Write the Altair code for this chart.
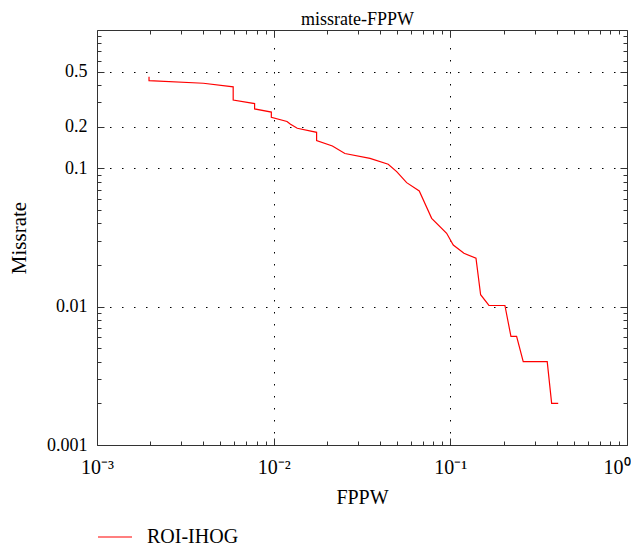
import altair as alt
import pandas as pd

# ---- data ----
FPPW = [0.00197, 0.00197, 0.0040, 0.0059, 0.0059, 0.0078, 0.0078, 0.0097, 0.0097,
        0.0119, 0.0124, 0.0136, 0.0175, 0.0175, 0.0215, 0.0253, 0.0351, 0.0445,
        0.0497, 0.0566, 0.0667, 0.0784, 0.0953, 0.1039, 0.1194, 0.1397, 0.1484,
        0.1654, 0.2037, 0.2203, 0.2372, 0.2586, 0.3535, 0.3745, 0.408]
MISSRATE = [0.460, 0.430, 0.412, 0.388, 0.312, 0.294, 0.269, 0.255, 0.234,
            0.218, 0.209, 0.195, 0.182, 0.159, 0.145, 0.128, 0.118, 0.107,
            0.0946, 0.0788, 0.0687, 0.0435, 0.0339, 0.0279, 0.0243, 0.0224, 0.0122,
            0.0102, 0.0102, 0.0061, 0.0061, 0.0040, 0.0040, 0.0020, 0.0020]
SERIES = "ROI-IHOG"
TITLE = "missrate-FPPW"

X_MAJOR = [0.001, 0.01, 0.1, 1]
X_MAJOR_LABELS = ["10⁻³", "10⁻²", "10⁻¹", "10⁰"]
X_MINOR = [0.002, 0.003, 0.004, 0.005, 0.006, 0.007, 0.008, 0.009,
           0.02, 0.03, 0.04, 0.05, 0.06, 0.07, 0.08, 0.09,
           0.2, 0.3, 0.4, 0.5, 0.6, 0.7, 0.8, 0.9]
X_GRID = [0.01, 0.1]

Y_MAJOR = [0.001, 0.01, 0.1, 0.2, 0.5]
Y_MAJOR_LABELS = ["0.001", "0.01", "0.1", "0.2", "0.5"]
Y_MINOR = [0.002, 0.003, 0.004, 0.005, 0.006, 0.007, 0.008, 0.009,
           0.02, 0.03, 0.04, 0.05, 0.06, 0.07, 0.08, 0.09,
           0.3, 0.4, 0.6, 0.7, 0.8, 0.9]
Y_GRID = [0.01, 0.1, 0.2, 0.5]

df = pd.DataFrame({"fppw": FPPW, "missrate": MISSRATE,
                   "series": [SERIES] * len(FPPW), "idx": list(range(len(FPPW)))})

W, H = 530, 415
FONT = "Liberation Serif"
TICK = "#333333"


def label_expr(vals, labels):
    expr = "''"
    for v, l in reversed(list(zip(vals, labels))):
        expr = f"datum.value == {v} ? '{l}' : ({expr})"
    return expr


def major_test(vals):
    return "indexof([" + ",".join(str(v) for v in vals) + "], datum.value) >= 0"


xs = alt.Scale(type="log", domain=[0.001, 1], nice=False)
ys = alt.Scale(type="log", domain=[0.001, 1], nice=False)

x_axis_main = alt.Axis(
    orient="bottom", values=X_MAJOR + X_MINOR, labelExpr=label_expr(X_MAJOR, X_MAJOR_LABELS),
    ticks=False, tickSize=0, domain=False, grid=True, gridColor=TICK, gridWidth=1, gridOpacity=1,
    gridDash={"condition": {"test": major_test(X_MAJOR), "value": [7, H - 14, 7]},
              "value": [4, H - 8, 4]},
    labelFont=FONT, labelFontSize=20, labelColor="black", labelPadding=28,
    labelBaseline="alphabetic", labelFlush=False, labelOverlap=False,
    labelAlign={"condition": {"test": "datum.value == 1", "value": "right"}, "value": "center"},
    labelOffset={"condition": {"test": "datum.value == 1", "value": 3}, "value": 0},
    title="FPPW", titleFont=FONT, titleFontSize=20, titleFontWeight="normal",
    titleColor="black", titleY=58, titleBaseline="alphabetic")

y_axis_main = alt.Axis(
    orient="left", values=Y_MAJOR + Y_MINOR, labelExpr=label_expr(Y_MAJOR, Y_MAJOR_LABELS),
    ticks=False, tickSize=0, domain=False, grid=True, gridColor=TICK, gridWidth=1, gridOpacity=1,
    gridDash={"condition": {"test": major_test(Y_MAJOR), "value": [7, W - 14, 7]},
              "value": [4, W - 8, 4]},
    labelFont=FONT, labelFontSize=18, labelColor="black", labelPadding=10,
    labelOverlap=False, labelFlush=False,
    title="Missrate", titleFont=FONT, titleFontSize=21, titleFontWeight="normal",
    titleColor="black", titleX=-71.5, titleAngle=270, titleBaseline="alphabetic")

line = alt.Chart(df).mark_line(strokeWidth=1.2).encode(
    x=alt.X("fppw:Q", scale=xs, axis=x_axis_main),
    y=alt.Y("missrate:Q", scale=ys, axis=y_axis_main),
    order=alt.Order("idx:Q"),
    color=alt.Color("series:N", scale=alt.Scale(domain=[SERIES], range=["#ff0000"]),
                    legend=alt.Legend(title=None, orient="none", legendX=0, legendY=489,
                                      symbolType="stroke", symbolSize=1156,
                                      symbolStrokeWidth=1.2, labelFont=FONT,
                                      labelFontSize=20, labelColor="black",
                                      labelOffset=14, padding=0)),
)

grid = alt.Chart(df).mark_line(strokeOpacity=0).encode(
    x=alt.X("fppw:Q", scale=xs,
            axis=alt.Axis(orient="top", values=X_GRID, labels=False, ticks=False,
                          domain=False, grid=True, gridColor="black", gridWidth=1,
                          gridDash=[1.5, 10.5], title=TITLE, titleFont=FONT,
                          titleFontSize=18, titleFontWeight="normal", titleColor="black",
                          titleX=260, titleY=-6, titleAlign="center",
                          titleBaseline="alphabetic")),
    y=alt.Y("missrate:Q", scale=ys,
            axis=alt.Axis(orient="right", values=Y_GRID, labels=False, ticks=False,
                          domain=False, grid=True, gridColor="black", gridWidth=1,
                          gridDash=[1.5, 10.5], title=None)),
    order=alt.Order("idx:Q"),
)

chart = alt.layer(grid, line).resolve_axis(x="independent", y="independent").properties(
    width=W, height=H,
    autosize=alt.AutoSizeParams(type="none"),
    padding={"left": 89, "top": 22, "right": 4, "bottom": 101},
).configure_view(stroke=TICK, strokeWidth=1)

chart.save("out.html", embed_options={"renderer": "svg", "actions": False})
